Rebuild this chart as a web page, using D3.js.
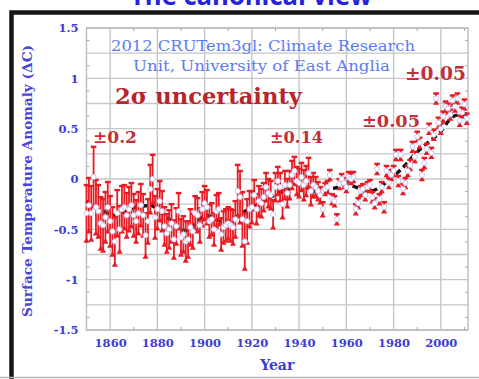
<!DOCTYPE html>
<html>
<head>
<meta charset="utf-8">
<script src="https://cdn.jsdelivr.net/npm/d3@7"></script>
<style>
  html, body { margin: 0; padding: 0; background: #fff; overflow: hidden; }
  svg { display: block; }
</style>
</head>
<body>
<svg id="chart" width="479" height="379"></svg>
<script>
// CRUTEM3 global land annual anomaly (°C) with 2-sigma uncertainty, 1850–2011
const years = d3.range(1850, 2012);

const anomaly = [
  -0.34,-0.26,-0.34, 0.02,-0.28,-0.32,-0.44,-0.46,-0.38,-0.28,
  -0.42,-0.52,-0.62,-0.34,-0.50,-0.30,-0.28,-0.36,-0.30,-0.26,
  -0.36,-0.42,-0.34,-0.26,-0.36,-0.56,-0.42,-0.10, 0.00,-0.38,
  -0.30,-0.22,-0.32,-0.47,-0.54,-0.50,-0.44,-0.60,-0.47,-0.32,
  -0.58,-0.55,-0.62,-0.60,-0.48,-0.52,-0.34,-0.36,-0.46,-0.30,
  -0.24,-0.28,-0.42,-0.40,-0.50,-0.32,-0.30,-0.55,-0.48,-0.46,
  -0.44,-0.46,-0.48,-0.40,-0.12,-0.18,-0.40,-0.62,-0.42,-0.30,
  -0.28,-0.16,-0.30,-0.22,-0.24,-0.18,-0.08,-0.14,-0.16,-0.35,
  -0.08,-0.02,-0.08,-0.25,-0.06,-0.14,-0.06, 0.04, 0.08,-0.02,
  -0.04, 0.02,-0.06,-0.02, 0.06,-0.12,-0.06,-0.08,-0.12,-0.16,
  -0.30,-0.10,-0.08, 0.04,-0.20,-0.22,-0.40,-0.05, 0.00,-0.04,
  -0.08, 0.02, 0.00, 0.02,-0.30,-0.24,-0.12,-0.10,-0.16,-0.08,
  -0.06,-0.18,-0.24, 0.10,-0.20,-0.08,-0.28, 0.08,-0.04, 0.04,
   0.08, 0.24,-0.02, 0.24,-0.10,-0.04, 0.08, 0.14, 0.32, 0.22,
   0.42, 0.36, 0.04, 0.16, 0.30, 0.50, 0.26, 0.44, 0.80, 0.56,
   0.50, 0.62, 0.72, 0.70, 0.64, 0.78, 0.72, 0.80, 0.58, 0.66,
   0.74, 0.60
];

const uncertainty = [
  0.28,0.27,0.27,0.30,0.27,0.26,0.26,0.26,0.25,0.25,
  0.25,0.24,0.24,0.23,0.23,0.23,0.22,0.22,0.22,0.22,
  0.21,0.21,0.21,0.21,0.21,0.22,0.22,0.24,0.24,0.21,
  0.20,0.20,0.20,0.19,0.19,0.19,0.19,0.19,0.18,0.18,
  0.18,0.18,0.20,0.18,0.18,0.17,0.17,0.17,0.17,0.17,
  0.17,0.17,0.16,0.16,0.16,0.16,0.16,0.16,0.16,0.16,
  0.16,0.16,0.17,0.18,0.26,0.26,0.27,0.28,0.22,0.18,
  0.16,0.15,0.15,0.15,0.14,0.14,0.14,0.14,0.14,0.14,
  0.14,0.14,0.14,0.14,0.14,0.14,0.14,0.14,0.14,0.14,
  0.14,0.14,0.15,0.15,0.15,0.14,0.12,0.10,0.09,0.08,
  0.07,0.06,0.06,0.05,0.05,0.05,0.05,0.05,0.05,0.05,
  0.05,0.05,0.05,0.05,0.05,0.05,0.05,0.05,0.05,0.05,
  0.05,0.05,0.05,0.05,0.05,0.05,0.05,0.05,0.05,0.05,
  0.05,0.05,0.05,0.05,0.05,0.05,0.05,0.05,0.05,0.05,
  0.05,0.05,0.05,0.05,0.05,0.05,0.05,0.05,0.05,0.05,
  0.05,0.05,0.05,0.05,0.05,0.05,0.05,0.05,0.05,0.05,
  0.05,0.05
];

// smoothed trend
const smoothYears = [1850,1853,1856,1859,1862,1865,1868,1871,1874,1877,
  1880,1883,1886,1889,1892,1895,1898,1901,1904,1907,1910,1913,1916,1919,
  1922,1925,1928,1931,1934,1937,1940,1943,1946,1949,1952,1955,1958,1961,
  1964,1967,1970,1973,1976,1979,1982,1985,1988,1991,1994,1997,2000,2003,
  2006,2009,2011];
const smoothValues = [-0.22,-0.28,-0.31,-0.34,-0.36,-0.34,-0.31,-0.28,-0.27,-0.26,
  -0.30,-0.36,-0.42,-0.50,-0.51,-0.47,-0.40,-0.36,-0.39,-0.42,-0.42,-0.38,-0.34,-0.29,
  -0.26,-0.22,-0.18,-0.14,-0.12,-0.08,-0.05,-0.08,-0.12,-0.13,-0.10,-0.09,-0.07,-0.06,
  -0.08,-0.11,-0.12,-0.10,-0.05,0.02,0.07,0.14,0.22,0.29,0.35,0.41,0.47,0.57,
  0.63,0.64,0.65];

const xTickValues = [1860, 1880, 1900, 1920, 1940, 1960, 1980, 2000];
const xMinorValues = [1870, 1890, 1910, 1930, 1950, 1970, 1990, 2010];
const yTickValues = [-1.5, -1, -0.5, 0, 0.5, 1, 1.5];
const yGridValues = [-1.5, -1.25, -1, -0.75, -0.5, -0.25, 0, 0.25, 0.5, 0.75, 1, 1.25, 1.5];
const yMinorValues = [-1.375, -1.125, -0.875, -0.625, -0.375, -0.125, 0.125, 0.375, 0.625, 0.875, 1.125, 1.375];

const titleText = "The canonical view";
const sourceLines = ["2012 CRUTem3gl: Climate Research", "Unit, University of East Anglia"];
const uncertaintyTitle = "2σ uncertainty";
const uncertaintyLabels = ["±0.2", "±0.14", "±0.05", "±0.05"];
const xTitle = "Year";
const yTitle = "Surface Temperature Anomaly (ΔC)";

const svg = d3.select("#chart");
const W = 479, H = 379;
const plot = { left: 86.5, right: 468, top: 28, bottom: 330 };

svg.append("rect").attr("width", W).attr("height", H).attr("fill", "#fff");

const x = d3.scaleLinear().domain([1850, 2011.5]).range([plot.left, plot.right]);
const y = d3.scaleLinear().domain([-1.5, 1.5]).range([plot.bottom, plot.top]);

const serif = "'DejaVu Serif', 'Liberation Serif', serif";
const axisBlue = "#3d3dd6";
const red = "#e81c24";
const noteRed = "#c2303a";

// outer frame
svg.append("path")
  .attr("d", `M11.5,${H + 5} L11.5,12.5 L${W + 5},12.5`)
  .attr("fill", "none").attr("stroke", "#151515").attr("stroke-width", 4.5);
svg.append("line")
  .attr("x1", 0).attr("x2", W).attr("y1", 377.5).attr("y2", 377.5)
  .attr("stroke", "#b8b8b8").attr("stroke-width", 1.5);

// title, clipped by the top of the frame
svg.append("text")
  .attr("x", 251).attr("y", 4.5)
  .attr("text-anchor", "middle")
  .attr("textLength", 242).attr("lengthAdjust", "spacingAndGlyphs")
  .attr("font-family", "'Open Sans', 'DejaVu Sans', sans-serif")
  .attr("font-weight", "bold").attr("font-size", 26)
  .attr("fill", "#2323dc")
  .text(titleText);

// grid
const grid = svg.append("g").attr("stroke", "#c6c6c6").attr("stroke-width", 1.4);
grid.selectAll("line.v").data(xTickValues).join("line")
  .attr("x1", d => x(d)).attr("x2", d => x(d))
  .attr("y1", plot.top).attr("y2", plot.bottom);
grid.selectAll("line.h").data(yGridValues).join("line")
  .attr("x1", plot.left).attr("x2", plot.right)
  .attr("y1", d => y(d)).attr("y2", d => y(d));
svg.append("rect")
  .attr("x", plot.left).attr("y", plot.top)
  .attr("width", plot.right - plot.left).attr("height", plot.bottom - plot.top)
  .attr("fill", "none").attr("stroke", "#bcbcbc").attr("stroke-width", 1.4);

// minor ticks along the plot edges
const minor = svg.append("g").attr("stroke", "#a8a8a8").attr("stroke-width", 1);
minor.selectAll("line.l").data(yMinorValues).join("line")
  .attr("x1", plot.left).attr("x2", plot.left + 3)
  .attr("y1", d => y(d)).attr("y2", d => y(d));
minor.selectAll("line.r").data(yMinorValues).join("line")
  .attr("x1", plot.right - 3).attr("x2", plot.right)
  .attr("y1", d => y(d)).attr("y2", d => y(d));
minor.selectAll("line.b").data(xMinorValues.filter(d => x(d) < plot.right)).join("line")
  .attr("x1", d => x(d)).attr("x2", d => x(d))
  .attr("y1", plot.bottom - 3).attr("y2", plot.bottom);
minor.selectAll("line.t").data(xMinorValues.filter(d => x(d) < plot.right)).join("line")
  .attr("x1", d => x(d)).attr("x2", d => x(d))
  .attr("y1", plot.top).attr("y2", plot.top + 3);

// axes labels via d3 axes
const xAxis = svg.append("g")
  .attr("transform", `translate(0,${plot.bottom})`)
  .call(d3.axisBottom(x).tickValues(xTickValues).tickSize(0).tickPadding(9).tickFormat(d3.format("d")));
xAxis.select(".domain").remove();
xAxis.selectAll("text")
  .attr("font-family", serif).attr("font-weight", "bold").attr("font-size", 11.5)
  .attr("fill", axisBlue);

const yAxis = svg.append("g")
  .attr("transform", `translate(${plot.left},0)`)
  .call(d3.axisLeft(y).tickValues(yTickValues).tickSize(0).tickPadding(8).tickFormat(d => d3.format("")(d).replace("−", "-")));
yAxis.select(".domain").remove();
yAxis.selectAll("text")
  .attr("font-family", serif).attr("font-weight", "bold").attr("font-size", 11.5)
  .attr("fill", axisBlue);

svg.append("text")
  .attr("x", (plot.left + plot.right) / 2).attr("y", 370)
  .attr("text-anchor", "middle")
  .attr("font-family", serif).attr("font-weight", "bold").attr("font-size", 14)
  .attr("fill", axisBlue)
  .text(xTitle);

svg.append("text")
  .attr("transform", "translate(32,181) rotate(-90)")
  .attr("text-anchor", "middle")
  .attr("textLength", 272).attr("lengthAdjust", "spacingAndGlyphs")
  .attr("font-family", serif).attr("font-weight", "bold").attr("font-size", 12.5)
  .attr("fill", "#4646dc")
  .text(yTitle);

// smoothed trend: white underlay with black dashes
const trend = smoothYears.map((yr, i) => [yr, smoothValues[i]]);
const trendLine = d3.line().x(d => x(d[0])).y(d => y(d[1])).curve(d3.curveMonotoneX);
svg.append("path").attr("d", trendLine(trend))
  .attr("fill", "none").attr("stroke", "#fff").attr("stroke-width", 4.5);
svg.append("path").attr("d", trendLine(trend))
  .attr("fill", "none").attr("stroke", "#111").attr("stroke-width", 3.4)
  .attr("stroke-dasharray", "6,4");

// annual error bars
const data = years.map((yr, i) => ({ year: yr, v: anomaly[i], e: uncertainty[i] }));
const bars = svg.append("g").attr("fill", red).attr("stroke", red);
bars.selectAll("line").data(data).join("line")
  .attr("x1", d => x(d.year)).attr("x2", d => x(d.year))
  .attr("y1", d => y(d.v + d.e)).attr("y2", d => y(d.v - d.e))
  .attr("stroke-width", 1.8);
bars.selectAll("rect.cap").data(data).join("rect")
  .attr("x", d => x(d.year) - 2.8).attr("y", d => y(d.v + d.e) - 1.2)
  .attr("width", 5.6).attr("height", 2.4).attr("stroke", "none");
bars.selectAll("path.cap").data(data).join("path")
  .attr("transform", d => `translate(${x(d.year)},${y(d.v - d.e) - 0.5})`)
  .attr("d", d3.symbol(d3.symbolTriangle, 16)).attr("stroke", "none");

// annual values
svg.append("g").selectAll("circle").data(data).join("circle")
  .attr("cx", d => x(d.year)).attr("cy", d => y(d.v)).attr("r", 2.5)
  .attr("fill", "#fff").attr("stroke", "#c4c8f4").attr("stroke-width", 1);

// annotations
svg.append("g").selectAll("text").data(sourceLines).join("text")
  .attr("x", (d, i) => i === 0 ? 263 : 261.5)
  .attr("y", (d, i) => i === 0 ? 51 : 71)
  .attr("text-anchor", "middle")
  .attr("textLength", (d, i) => i === 0 ? 304 : 257)
  .attr("lengthAdjust", "spacingAndGlyphs")
  .attr("font-family", serif).attr("font-size", 14.5)
  .attr("fill", "#5c7cf2")
  .text(d => d);

svg.append("text")
  .attr("x", 115).attr("y", 104)
  .attr("textLength", 187).attr("lengthAdjust", "spacingAndGlyphs")
  .attr("font-family", serif).attr("font-weight", "bold").attr("font-size", 22)
  .attr("fill", "#b8242c")
  .text(uncertaintyTitle);

const notePos = [
  { x: 93, y: 143, w: 44, s: 16 },
  { x: 270, y: 143, w: 53, s: 16 },
  { x: 362, y: 127, w: 58, s: 17 },
  { x: 405, y: 80, w: 61, s: 18 }
];
svg.append("g").selectAll("text").data(uncertaintyLabels).join("text")
  .attr("x", (d, i) => notePos[i].x).attr("y", (d, i) => notePos[i].y)
  .attr("textLength", (d, i) => notePos[i].w).attr("lengthAdjust", "spacingAndGlyphs")
  .attr("font-family", serif).attr("font-weight", "bold")
  .attr("font-size", (d, i) => notePos[i].s)
  .attr("fill", noteRed)
  .text(d => d);
</script>
</body>
</html>
